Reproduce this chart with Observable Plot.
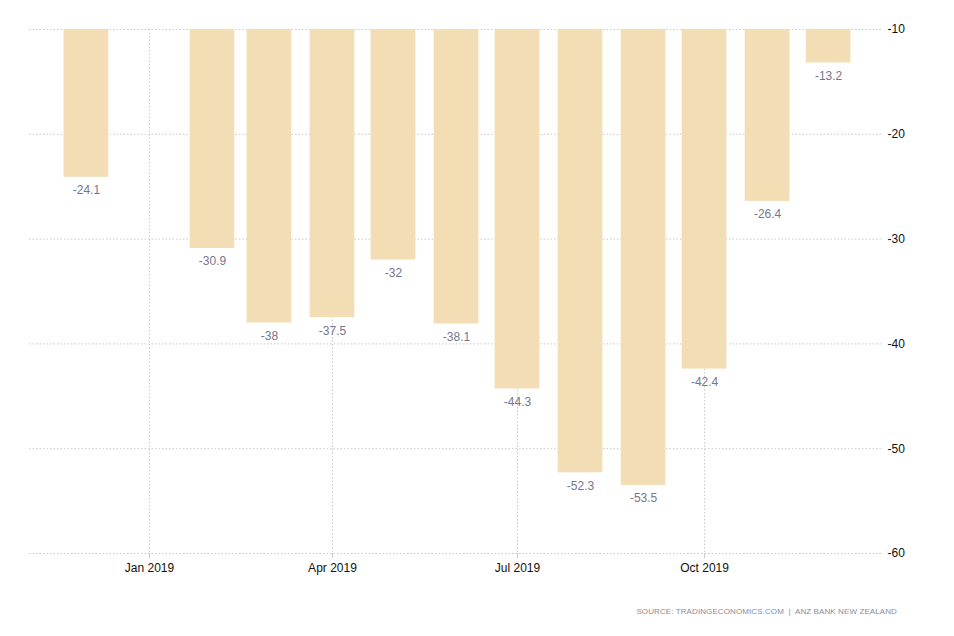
<!DOCTYPE html>
<html>
<head>
<meta charset="utf-8">
<script src="https://cdn.jsdelivr.net/npm/d3@7"></script>
<script src="https://cdn.jsdelivr.net/npm/@observablehq/plot@0.6"></script>
<style>
  body { margin: 0; background: #fff; }
  #wrap { position: relative; width: 954px; height: 636px; }
  #source { position: absolute; right: 57px; top: 607px; font-family: "Liberation Sans", Arial, sans-serif; font-size: 8px; letter-spacing: 0.1px; color: #8a8a9a; white-space: pre; }
</style>
</head>
<body>
<div id="wrap"><div id="chart"></div><div id="source">SOURCE: TRADINGECONOMICS.COM  |  ANZ BANK NEW ZEALAND</div></div>
<script>
const months = ["2018-12-01","2019-02-01","2019-03-01","2019-04-01","2019-05-01","2019-06-01","2019-07-01","2019-08-01","2019-09-01","2019-10-01","2019-11-01","2019-12-01"];
const values = [-24.1, -30.9, -38, -37.5, -32, -38.1, -44.3, -52.3, -53.5, -42.4, -26.4, -13.2];
const yTicks = [-10, -20, -30, -40, -50, -60];
const xTicks = ["2019-01-01","2019-04-01","2019-07-01","2019-10-01"];

const data = months.map((m, i) => ({date: new Date(m + "T00:00:00Z"), value: values[i]}));
const xTickDates = xTicks.map(s => new Date(s + "T00:00:00Z"));
const font = '"Liberation Sans", Arial, sans-serif';

const chart = Plot.plot({
  width: 954,
  height: 636,
  marginTop: 29,
  marginLeft: 29,
  marginRight: 71,
  marginBottom: 83,
  style: {fontFamily: font, fontSize: "12px", background: "#fff"},
  x: {type: "utc", domain: [new Date("2018-11-03T00:00:00Z"), new Date("2019-12-28T00:00:00Z")]},
  y: {domain: [-60, -10]},
  marks: [
    Plot.gridY(yTicks, {stroke: "#c8c8c8", strokeOpacity: 1, strokeDasharray: "1.5,2"}),
    Plot.gridX(xTickDates, {stroke: "#c8c8c8", strokeOpacity: 1, strokeDasharray: "1.5,2"}),
    Plot.rect(data, {
      x1: d => d3.utcDay.offset(d.date, -11),
      x2: d => d3.utcDay.offset(d.date, 11),
      y1: () => -10,
      y2: "value",
      fill: "#f3ddb4"
    }),
    Plot.text(data, {x: "date", y: "value", text: d => String(d.value), dy: 13, fill: "#767690", fontSize: 12}),
    Plot.axisY(yTicks, {anchor: "right", tickSize: 0, tickPadding: 4, textAnchor: "start", label: null, fill: "#111", fontSize: 12, tickFormat: d => String(d)}),
    Plot.axisX(xTickDates, {tickSize: 5, tickPadding: 5, stroke: "#c8c8c8", tickFormat: d3.utcFormat("%b %Y"), label: null, fill: "#111", fontSize: 12})
  ]
});
document.getElementById("chart").appendChild(chart);
</script>
</body>
</html>
